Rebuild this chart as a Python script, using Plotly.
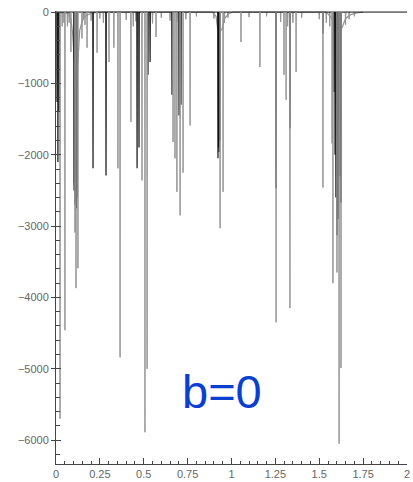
import plotly.graph_objects as go

# ---- data ----
# deep / medium spikes, grey series (position, depth)
grey_x = [0.023, 0.051, 0.085, 0.108, 0.114, 0.125, 0.148, 0.177, 0.234, 0.302,
          0.330, 0.353, 0.365, 0.427, 0.490, 0.507, 0.519, 0.570, 0.667, 0.678,
          0.689, 0.707, 0.724, 0.764, 0.935, 0.952, 1.054, 1.162, 1.254, 1.299,
          1.311, 1.333, 1.368, 1.521, 1.573, 1.578, 1.601, 1.613, 1.624]
grey_d = [-5700, -4460, -560, -3090, -3870, -3590, -370, -500, -570, -700,
          -500, -2190, -4840, -1540, -2360, -5890, -5000, -350, -1820, -2050,
          -2520, -2850, -2250, -1590, -3030, -2520, -420, -770, -4350, -880,
          -1230, -4150, -840, -2460, -1840, -3800, -3650, -6050, -4990]

# black series spikes
black_x = [0.006, 0.011, 0.017, 0.103, 0.105, 0.108, 0.112, 0.115, 0.117, 0.120,
           0.211, 0.285, 0.462, 0.473, 0.524, 0.536, 0.661, 0.701, 0.712, 0.923,
           0.926, 0.929, 0.934, 1.254, 1.333, 1.521, 1.584, 1.590, 1.595, 1.601,
           1.607, 1.618, 1.624]
black_d = [-1260, -2100, -1400, -2500, -2400, -2700, -2650, -2200, -2750, -2600,
           -2190, -2290, -2190, -1900, -880, -700, -1160, -1450, -1300, -2050,
           -1900, -1960, -1800, -2470, -1630, -300, -1120, -2000, -2600, -3130,
           -2900, -2300, -2670]

# small spikes near the baseline
small_x = [0.035, 0.045, 0.065, 0.075, 0.155, 0.165, 0.2, 0.25, 0.27, 0.4, 0.44,
           0.455, 0.55, 0.6, 0.65, 0.69, 0.74, 0.8, 0.9, 0.96, 0.98, 1.1, 1.2,
           1.28, 1.32, 1.35, 1.4, 1.5, 1.54, 1.56, 1.59, 1.65, 1.67, 1.7]
small_d = [-200, -150, -200, -150, -100, -180, -120, -90, -150, -110, -200,
           -130, -160, -80, -120, -140, -100, -60, -90, -150, -80, -70, -60,
           -140, -200, -150, -80, -100, -150, -200, -250, -180, -100, -60]

# grey envelope (rounded shoulders of the broad resonances)
env_x = [0.0, 0.07, 0.085, 0.095, 0.105, 0.125, 0.135, 0.15, 0.17, 0.2, 0.25,
         0.89, 0.912, 0.922, 0.945, 0.96, 0.985, 1.01,
         1.54, 1.57, 1.59, 1.63, 1.65, 1.68, 1.72, 1.75]
env_y = [0, -20, -100, -300, -700, -700, -260, -120, -50, -15, 0,
         0, -60, -250, -250, -90, -20, 0,
         0, -80, -220, -220, -90, -35, -10, 0]

y_ticks = [0, -1000, -2000, -3000, -4000, -5000, -6000]
y_labels = ["0", "\u22121000", "\u22122000", "\u22123000", "\u22124000", "\u22125000", "\u22126000"]
x_ticks = [0, 0.25, 0.5, 0.75, 1, 1.25, 1.5, 1.75, 2]
x_labels = ["0", "0.25", "0.5", "0.75", "1", "1.25", "1.5", "1.75", "2"]

GREY = "#939393"
BLACK = "#111111"


def spikes(xs, ds, w=0.0012):
    X, Y = [], []
    for x, d in zip(xs, ds):
        X += [x - w, x, x + w, None]
        Y += [0, d, 0, None]
    return X, Y


fig = go.Figure()

sx, sy = spikes(small_x, small_d, 0.002)
fig.add_trace(go.Scatter(x=sx, y=sy, mode="lines", line=dict(color=GREY, width=1),
                         hoverinfo="skip", showlegend=False))
fig.add_trace(go.Scatter(x=env_x, y=env_y, mode="lines", line=dict(color=GREY, width=1.2),
                         hoverinfo="skip", showlegend=False))
fig.add_trace(go.Scatter(x=[0, 2], y=[0, 0], mode="lines", line=dict(color=BLACK, width=1),
                         hoverinfo="skip", showlegend=False))
bx, by = spikes(black_x, black_d)
fig.add_trace(go.Scatter(x=bx, y=by, mode="lines", line=dict(color=BLACK, width=1.2),
                         hoverinfo="skip", showlegend=False))
gx, gy = spikes(grey_x, grey_d)
fig.add_trace(go.Scatter(x=gx, y=gy, mode="lines", line=dict(color=GREY, width=1),
                         hoverinfo="skip", showlegend=False))
# dummy trace for the overlay axis carrying the inside tick marks
fig.add_trace(go.Scatter(x=[None], y=[None], yaxis="y2", showlegend=False, hoverinfo="skip"))

YR = [-6335, 15]
TICKFONT = dict(family="Liberation Sans, Arial", size=11, color="#666")
fig.update_layout(
    template="none",
    width=413, height=482,
    margin=dict(l=56, r=6, t=11, b=18, pad=0),
    paper_bgcolor="white", plot_bgcolor="white",
    showlegend=False,
    xaxis=dict(range=[0, 2], showline=True, linecolor="#444", linewidth=1,
               ticks="inside", ticklen=6, tickcolor="#444", automargin=False,
               tickvals=x_ticks, ticktext=x_labels,
               minor=dict(ticks="inside", ticklen=3, dtick=0.05, tickcolor="#444", showgrid=False),
               showgrid=False, zeroline=False, tickfont=TICKFONT),
    yaxis=dict(range=YR, showline=True, linecolor="#444", linewidth=1,
               ticks="outside", ticklen=4, tickcolor="#444", automargin=False,
               tickvals=y_ticks, ticktext=y_labels,
               showgrid=False, zeroline=False, tickfont=TICKFONT),
    yaxis2=dict(range=YR, overlaying="y", side="left", showline=False, automargin=False,
                ticks="inside", ticklen=5, tickcolor="#444",
                tickvals=y_ticks, showticklabels=False,
                minor=dict(ticks="inside", ticklen=4, dtick=200, tickcolor="#444", showgrid=False),
                showgrid=False, zeroline=False),
    annotations=[dict(x=0.946, y=-5317, xref="x", yref="y", text="b=0", showarrow=False,
                      font=dict(family="Liberation Sans, Arial", size=47, color="#0a3fd0"))],
)

fig.write_html("out.html", config={"displayModeBar": False},
               post_script="document.body.style.margin='0';document.body.style.overflow='hidden';")
